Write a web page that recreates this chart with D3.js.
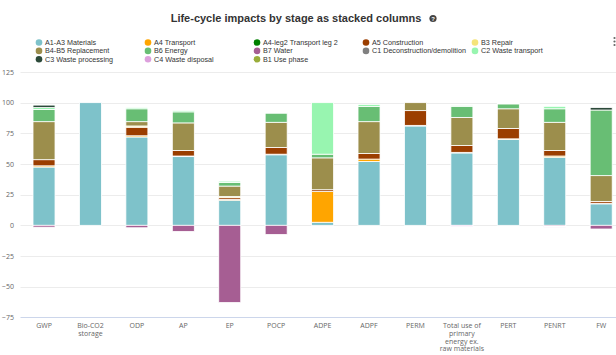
<!DOCTYPE html>
<html>
<head>
<meta charset="utf-8">
<script src="https://cdn.jsdelivr.net/npm/d3@7"></script>
<style>
  html, body { margin: 0; padding: 0; background: #fff; }
  svg { display: block; }
</style>
</head>
<body>
<svg id="chart" width="616" height="355"></svg>
<script>
// Impact categories along the x axis
const categories = ["GWP", "Bio-CO2 storage", "ODP", "AP", "EP", "POCP", "ADPE", "ADPF",
  "PERM", "Total use of primary energy ex. raw materials", "PERT", "PENRT", "FW"];

// Wrapped label lines for each category
const categoryLines = [["GWP"], ["Bio-CO2", "storage"], ["ODP"], ["AP"], ["EP"], ["POCP"],
  ["ADPE"], ["ADPF"], ["PERM"], ["Total use of", "primary", "energy ex.", "raw materials"],
  ["PERT"], ["PENRT"], ["FW"]];

// Life-cycle stage shares (%) per category
const a1a3 = [47.5, 100, 72, 56, 20.5, 57.5, 2.5, 52, 81, 59, 70, 55.5, 17.5];
const a4 = [1, 0, 1, 0.5, 0.5, 0.5, 25, 2, 0.5, 0.5, 0.5, 1, 0.5];
const a4leg2 = [0, 0, 0, 0, 0, 0, 0, 0, 0, 0, 0, 0, 0];
const a5 = [5, 0, 7, 4.5, 1.5, 5.5, 1.5, 4.5, 12, 5.5, 8.5, 4.5, 1.5];
const b3 = [0, 0, 1, 0, 1, 0, 0, 0, 0, 0, 0, 0, 0];
const b4b5 = [31, 0, 3.5, 22.5, 8.5, 20.5, 26, 26, 6.5, 23, 16, 23, 21];
const b6 = [10, 0, 10.5, 9, 3, 7.5, 3, 12.5, 0, 9, 4, 11, 53.5];
const b7 = [-1.5, 0, -2, -5, -63, -7.5, 0, 0, 0, 0, 0, -1, -3];
const c1 = [0, 0, 0, 0, 0, 0, 0, 0, 0, 0, 0, 0, 0];
const c2 = [1.5, 0, 1, 1, 1, 0.5, 42, 1.5, 0, 0.5, 0.5, 2, 0];
const c3 = [2, 0, 0, 0, 0, 0, 0, 0, 0, 0, 0, 0, 2];
const c4 = [0, 0, 0, 0, 0, 0, 0, 0, 0, -1, 0, -0.5, 0];
const b1 = [0, 0, 0, 0, 0, 0, 0, 0, 0, 0, 0, 0, 0];

const seriesNames = ["A1-A3 Materials", "A4 Transport", "A4-leg2 Transport leg 2", "A5 Construction",
  "B3 Repair", "B4-B5 Replacement", "B6 Energy", "B7 Water", "C1 Deconstruction/demolition",
  "C2 Waste transport", "C3 Waste processing", "C4 Waste disposal", "B1 Use phase"];
const seriesValues = [a1a3, a4, a4leg2, a5, b3, b4b5, b6, b7, c1, c2, c3, c4, b1];
const seriesColors = ["#7ec2ca", "#ffa500", "#008000", "#9b3e00", "#f5e47a", "#9c8e4c",
  "#68be74", "#a65e93", "#808080", "#98f5b0", "#2c4a3a", "#dda0dd", "#9aad3a"];

const yTicks = [-75, -50, -25, 0, 25, 50, 75, 100, 125];

const svg = d3.select("#chart");
const W = 616;

svg.append("rect").attr("width", W).attr("height", 355).attr("fill", "#fff");

// Title with help icon
svg.append("text")
  .attr("x", 296).attr("y", 22)
  .attr("text-anchor", "middle")
  .attr("font-family", "'Liberation Sans', Arial, sans-serif")
  .attr("font-size", 11).attr("font-weight", "bold")
  .attr("fill", "#333")
  .text("Life-cycle impacts by stage as stacked columns");
svg.append("circle").attr("cx", 433).attr("cy", 18.5).attr("r", 3.6).attr("fill", "#444");
svg.append("text").attr("x", 433).attr("y", 20.8).attr("text-anchor", "middle")
  .attr("font-family", "'Liberation Sans', Arial, sans-serif")
  .attr("font-size", 6).attr("font-weight", "bold").attr("fill", "#fff").text("?");

// Context menu dots at the right edge
[38, 41.5, 45].forEach(cy => svg.append("circle").attr("cx", 614.5).attr("cy", cy).attr("r", 1.1).attr("fill", "#666"));

// Legend: 5 columns, filled row by row
const legend = svg.append("g");
seriesNames.forEach((name, i) => {
  const col = i % 5, row = Math.floor(i / 5);
  const gx = 39 + col * 109, gy = 42.5 + row * 8.4;
  legend.append("circle").attr("cx", gx).attr("cy", gy).attr("r", 3.3).attr("fill", seriesColors[i]);
  legend.append("text").attr("x", gx + 6).attr("y", gy + 2.5)
    .attr("font-family", "'Liberation Sans', Arial, sans-serif")
    .attr("font-size", 7.2).attr("fill", "#333").text(name);
});

// Scales
const y = d3.scaleLinear().domain([-75, 125]).range([317.3, 72]);
const x = d3.scaleBand().domain(categories).range([20.8, 624.4])
  .paddingInner(0.526).paddingOuter(0.263);

// Grid lines
const grid = svg.append("g");
yTicks.forEach(t => {
  grid.append("line").attr("x1", 20.5).attr("x2", W).attr("y1", Math.round(y(t)) + 0.5).attr("y2", Math.round(y(t)) + 0.5)
    .attr("stroke", t === -75 ? "#ccd6eb" : "#ececec").attr("stroke-width", 1);
});

// Y axis labels
const yAxis = d3.axisLeft(y).tickValues(yTicks).tickSize(0).tickPadding(0);
const yg = svg.append("g").attr("transform", "translate(14,0)").call(yAxis);
yg.select(".domain").remove();
yg.selectAll("text").attr("font-family", "'Open Sans', sans-serif").attr("font-size", 7).attr("fill", "#666").attr("dy", "0.32em");

// Stacked columns (positives up, negatives down)
const rows = categories.map((c, j) => {
  const r = { cat: c };
  seriesNames.forEach((s, i) => { r[s] = seriesValues[i][j]; });
  return r;
});
const stacked = d3.stack().keys(seriesNames).offset(d3.stackOffsetDiverging)(rows);

const bars = svg.append("g");
stacked.forEach((layer, i) => {
  bars.selectAll(null).data(layer.filter(d => d[1] !== d[0])).join("rect")
    .attr("x", d => x(d.data.cat))
    .attr("width", x.bandwidth())
    .attr("y", d => y(Math.max(d[0], d[1])))
    .attr("height", d => Math.abs(y(d[0]) - y(d[1])))
    .attr("fill", seriesColors[i])
    .attr("stroke", "#fff").attr("stroke-width", 0.8);
});

// X axis labels
const xl = svg.append("g");
categories.forEach((c, j) => {
  const t = xl.append("text")
    .attr("x", x(c) + x.bandwidth() / 2).attr("y", 328)
    .attr("text-anchor", "middle")
    .attr("font-family", "'Open Sans', sans-serif")
    .attr("font-size", 7).attr("fill", "#666");
  categoryLines[j].forEach((ln, k) => {
    t.append("tspan").attr("x", x(c) + x.bandwidth() / 2).attr("dy", k === 0 ? 0 : 7.8).text(ln);
  });
});
</script>
</body>
</html>
